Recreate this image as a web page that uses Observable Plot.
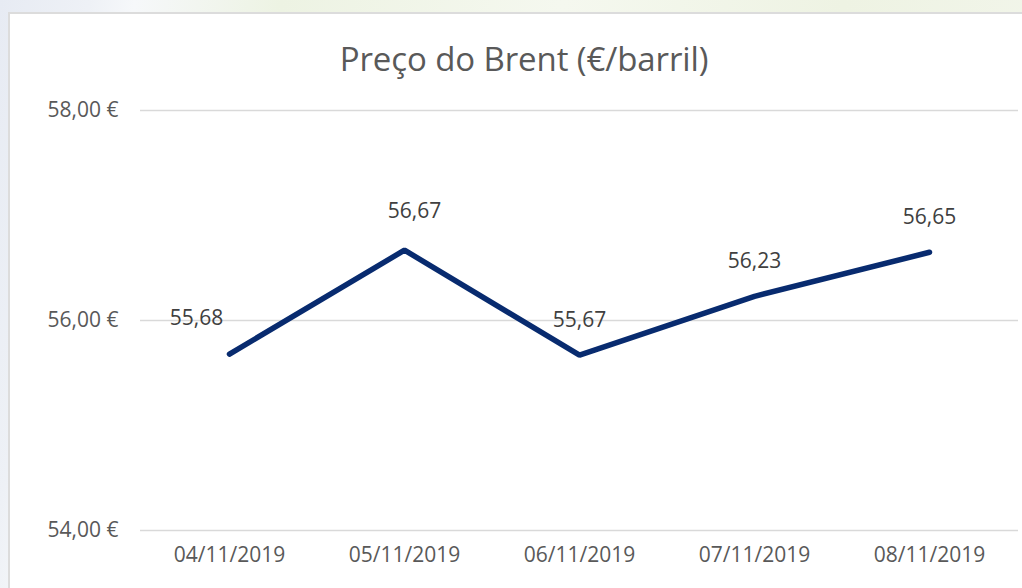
<!DOCTYPE html>
<html>
<head>
<meta charset="utf-8">
<script src="https://cdn.jsdelivr.net/npm/d3@7"></script>
<script src="https://cdn.jsdelivr.net/npm/@observablehq/plot@0.6"></script>
<style>
  html, body { margin: 0; padding: 0; width: 1022px; height: 588px; overflow: hidden; }
  body {
    background: linear-gradient(100deg, #e7ebf3 0%, #eef1f6 8%, #f6f8fa 12%, #edf3e3 25%, #f5f8ef 50%, #eef3e3 75%, #f3f6ec 100%);
    font-family: "Open Sans", sans-serif;
  }
  #frame {
    position: absolute; left: 8px; top: 12px; width: 1030px; height: 600px;
    background: #fff; border: 2px solid #dcdcdc; box-sizing: border-box;
  }
  #title {
    position: absolute; left: 224px; width: 600px; top: 36px; text-align: center;
    font-size: 33px; color: #595959; line-height: 46px; font-weight: 400; letter-spacing: -0.1px;
  }
  #chart { position: absolute; left: 0; top: 80px; }
</style>
</head>
<body>
<div id="frame"></div>
<div id="title">Preço do Brent (€/barril)</div>
<div id="chart"></div>
<script>
const dates = ["04/11/2019", "05/11/2019", "06/11/2019", "07/11/2019", "08/11/2019"];
const prices = [55.68, 56.67, 55.67, 56.23, 56.65];
const yTicks = [54, 56, 58];

const data = dates.map((d, i) => ({date: d, price: prices[i]}));
const fmt = v => v.toFixed(2).replace(".", ",");

const plot = Plot.plot({
  width: 1022,
  height: 508,
  marginLeft: 140,
  marginRight: 4,
  marginTop: 30,
  marginBottom: 58,
  style: {fontFamily: "Open Sans, sans-serif", fontSize: "21px", color: "#595959", background: "transparent"},
  x: {type: "point", domain: dates, padding: 0.5, label: null},
  y: {domain: [54, 58], label: null},
  marks: [
    Plot.gridY(yTicks, {stroke: "#d9d9d9", strokeOpacity: 1, strokeWidth: 1.5}),
    Plot.axisY(yTicks, {tickSize: 0, tickPadding: 22, tickFormat: v => fmt(v) + " €", fontSize: 21, fill: "#595959", label: null}),
    Plot.axisX({tickSize: 0, tickPadding: 17, fontSize: 21, fill: "#595959", label: null}),
    Plot.line(data, {x: "date", y: "price", stroke: "#082b6f", strokeWidth: 5.5, strokeLinecap: "round", strokeLinejoin: "miter"}),
    Plot.text(data, {filter: (d, i) => i === 0, x: "date", y: "price", text: d => fmt(d.price), dy: -36, dx: -33, fontSize: 21, fill: "#404040"}),
    Plot.text(data, {filter: (d, i) => i === 1, x: "date", y: "price", text: d => fmt(d.price), dy: -39, dx: 10, fontSize: 21, fill: "#404040"}),
    Plot.text(data, {filter: (d, i) => i > 1, x: "date", y: "price", text: d => fmt(d.price), dy: -35, fontSize: 21, fill: "#404040"})
  ]
});
document.getElementById("chart").appendChild(plot);
</script>
</body>
</html>
